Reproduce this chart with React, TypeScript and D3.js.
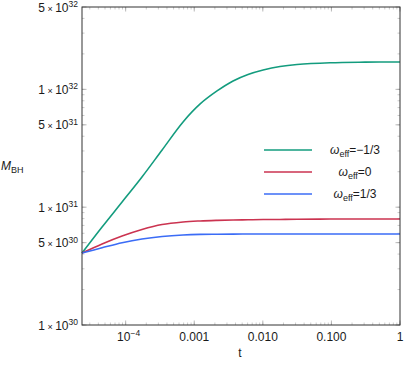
import React from "react";
import * as d3 from "d3";

const tVals = [2.31e-5, 4.53e-5, 8.87e-5, 1.73e-4, 3.4e-4, 6.87e-4, 1.22e-3, 2.15e-3, 3.68e-3, 6.08e-3, 0.0101, 0.0178, 0.0315, 0.0955, 0.309, 1];
const mNeg = [4.08e30, 6.79e30, 1.107e31, 1.805e31, 3.06e31, 5.29e31, 7.52e31, 9.69e31, 1.178e32, 1.338e32, 1.461e32, 1.565e32, 1.627e32, 1.682e32, 1.702e32, 1.709e32];
const mZero = [4.08e30, 4.87e30, 5.69e30, 6.47e30, 7.13e30, 7.49e30, 7.64e30, 7.73e30, 7.79e30, 7.82e30, 7.85e30, 7.87e30, 7.89e30, 7.93e30, 7.94e30, 7.94e30];
const mPos = [4.08e30, 4.52e30, 4.99e30, 5.37e30, 5.64e30, 5.81e30, 5.88e30, 5.9e30, 5.91e30, 5.92e30, 5.92e30, 5.92e30, 5.92e30, 5.92e30, 5.92e30, 5.92e30];

const seriesNames = ["=\u22121/3", "=0", "=1/3"];
const seriesColors = ["#139c7e", "#cb3350", "#3b6cf6"];

const yTicks = [
  { v: 5e32, m: "5", e: "32" },
  { v: 1e32, m: "1", e: "32" },
  { v: 5e31, m: "5", e: "31" },
  { v: 1e31, m: "1", e: "31" },
  { v: 5e30, m: "5", e: "30" },
  { v: 1e30, m: "1", e: "30" },
];
const xTicks = [
  { v: 1e-4, label: "" },
  { v: 1e-3, label: "0.001" },
  { v: 1e-2, label: "0.010" },
  { v: 1e-1, label: "0.100" },
  { v: 1, label: "1" },
];

const W = 405;
const H = 366;
const margin = { left: 82, right: 5, top: 7, bottom: 41 };
const font = "Liberation Sans, Arial, sans-serif";

export default function App() {
  const x = d3.scaleLog().domain([2.31e-5, 1]).range([margin.left, W - margin.right]);
  const y = d3.scaleLog().domain([1e30, 5e32]).range([H - margin.bottom, margin.top]);

  const line = d3
    .line<number>()
    .x((_, i) => x(tVals[i]))
    .y((d) => y(d))
    .curve(d3.curveCatmullRom.alpha(0.5));

  const series = [mNeg, mZero, mPos];

  // minor ticks
  const xMinor: number[] = [];
  for (let e = -5; e <= 0; e++) {
    for (let k = 1; k <= 9; k++) {
      const v = k * Math.pow(10, e);
      if (v >= 2.31e-5 && v <= 1) xMinor.push(v);
    }
  }
  const yMinor: number[] = [];
  for (let e = 30; e <= 32; e++) {
    for (let k = 1; k <= 9; k++) {
      const v = k * Math.pow(10, e);
      if (v >= 1e30 && v <= 5e32) yMinor.push(v);
    }
  }

  const x0 = margin.left;
  const x1 = W - margin.right;
  const y0 = H - margin.bottom;
  const y1 = margin.top;

  return (
    <svg width={W} height={H} style={{ position: "absolute", left: 0, top: 0, background: "#fff" }} fontFamily={font}>
      {/* minor ticks */}
      {xMinor.map((v, i) => (
        <g key={"xm" + i} stroke="#aaa" strokeWidth={0.6}>
          <line x1={x(v)} x2={x(v)} y1={y0} y2={y0 - 2.5} />
          <line x1={x(v)} x2={x(v)} y1={y1} y2={y1 + 2.5} />
        </g>
      ))}
      {yMinor.map((v, i) => (
        <g key={"ym" + i} stroke="#aaa" strokeWidth={0.6}>
          <line x1={x0} x2={x0 + 2.5} y1={y(v)} y2={y(v)} />
          <line x1={x1} x2={x1 - 2.5} y1={y(v)} y2={y(v)} />
        </g>
      ))}
      {/* major ticks */}
      {xTicks.map((t, i) => (
        <g key={"xM" + i} stroke="#999" strokeWidth={0.7}>
          <line x1={x(t.v)} x2={x(t.v)} y1={y0} y2={y0 - 4.5} />
          <line x1={x(t.v)} x2={x(t.v)} y1={y1} y2={y1 + 4.5} />
        </g>
      ))}
      {yTicks.map((t, i) => (
        <g key={"yM" + i} stroke="#999" strokeWidth={0.7}>
          <line x1={x0} x2={x0 + 4.5} y1={y(t.v)} y2={y(t.v)} />
          <line x1={x1} x2={x1 - 4.5} y1={y(t.v)} y2={y(t.v)} />
        </g>
      ))}

      {/* curves */}
      {series.map((s, i) => (
        <path key={"s" + i} d={line(s) || ""} fill="none" stroke={seriesColors[i]} strokeWidth={1.6} />
      ))}

      {/* frame */}
      <rect x={x0} y={y1} width={x1 - x0} height={y0 - y1} fill="none" stroke="#333" strokeWidth={1} />

      {/* y tick labels */}
      {yTicks.map((t, i) => (
        <text key={"yl" + i} x={x0 - 4} y={y(t.v) + 4.5} textAnchor="end" fontSize={12} fill="#1a1a1a">
          {t.m}
          <tspan fontSize={9}>{" \u00d7 "}</tspan>
          10
          <tspan fontSize={8.5} dy={-4.5}>{t.e}</tspan>
        </text>
      ))}

      {/* x tick labels */}
      {xTicks.map((t, i) =>
        t.label ? (
          <text key={"xl" + i} x={x(t.v)} y={y0 + 16} textAnchor="middle" fontSize={12} fill="#1a1a1a">
            {t.label}
          </text>
        ) : (
          <text key={"xl" + i} x={x(t.v) + 3} y={y0 + 16} textAnchor="middle" fontSize={12} fill="#1a1a1a">
            10
            <tspan fontSize={8.5} dy={-5}>{"\u22124"}</tspan>
          </text>
        )
      )}

      {/* axis titles */}
      <text x={240} y={357} textAnchor="middle" fontSize={12} fill="#1a1a1a">t</text>
      <text x={1} y={170} fontSize={12} fill="#1a1a1a">
        <tspan fontStyle="italic">M</tspan>
        <tspan fontSize={9} dy={3}>BH</tspan>
      </text>

      {/* legend */}
      {seriesNames.map((n, i) => (
        <g key={"lg" + i}>
          <line x1={264} x2={312} y1={150 + i * 22} y2={150 + i * 22} stroke={seriesColors[i]} strokeWidth={1.3} />
          <text x={355} y={154 + i * 22} textAnchor="middle" fontSize={12} fill="#1a1a1a">
            <tspan fontStyle="italic">{"\u03c9"}</tspan>
            <tspan fontSize={9} dy={3}>eff</tspan>
            <tspan dy={-3}>{n}</tspan>
          </text>
        </g>
      ))}
    </svg>
  );
}
